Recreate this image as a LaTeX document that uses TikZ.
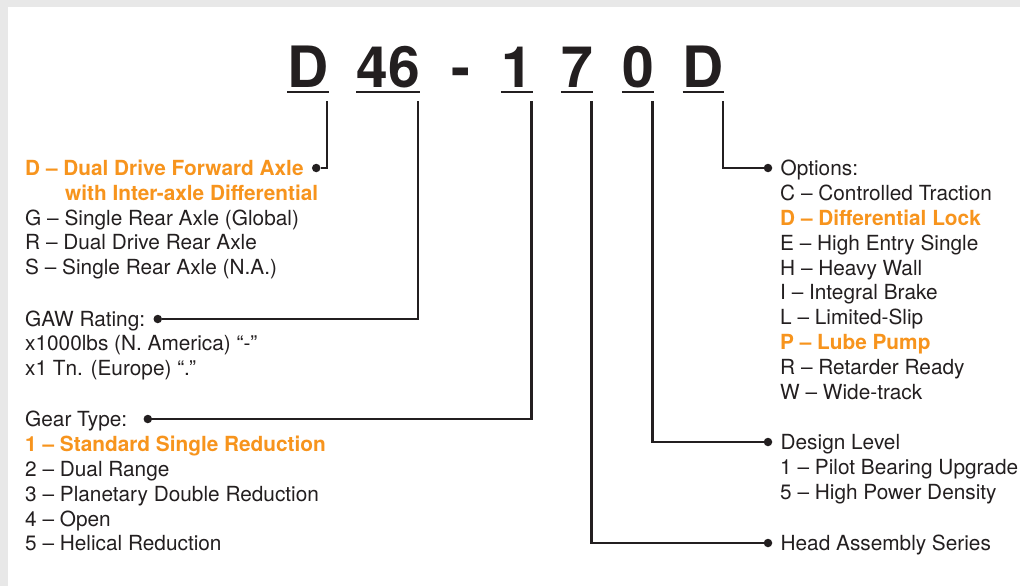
\documentclass[tikz,border=0pt]{standalone}
\usepackage{fontspec}
\setmainfont{TeX Gyre Heros}
\usetikzlibrary{positioning}
\definecolor{ink}{HTML}{231F20}
\definecolor{hot}{HTML}{F7941D}
\definecolor{rim}{HTML}{E8E8E8}

\begin{document}
\begin{tikzpicture}[x=1pt,y=-1pt,
    codechar/.style ={font=\fontsize{57}{57}\selectfont\bfseries, text=ink, inner sep=0pt,
                      anchor=base, text height=40pt, text depth=4pt},
    entry/.style ={font=\fontsize{20.8}{25}\selectfont, text=ink, inner sep=0pt,
                   anchor=west, text height=14.8pt, text depth=0pt},
    hotentry/.style ={entry, font=\fontsize{20.8}{25}\selectfont\bfseries, text=hot},
    tack/.style ={circle, fill=ink, inner sep=0pt, minimum size=8.5pt},
    leader/.style ={draw=ink, line width=2.2pt}]
   \useasboundingbox (0,0) rectangle (1020,586);
   \fill[rim] (0,0) rectangle (1020,586);
   \fill[white] (8,7) rectangle (1020,586);
   % model code
   \node[codechar, minimum width=40pt] (axle) at (308,88) {D};
   \node[codechar, minimum width=60pt] (gaw) at (388,88) {46};
   \node[codechar] (dash) at (460.5,88) {-};
   \node[codechar, minimum width=30pt] (gear) at (517,88) {1};
   \node[codechar, minimum width=30pt] (head) at (577,88) {7};
   \node[codechar, minimum width=30pt] (design) at (638,88) {0};
   \node[codechar, minimum width=39pt] (option) at (703.5,88) {D};
   \foreach \n in {axle,gaw,gear,head,design,option}
      \draw[ink, line width=2.5pt] (\n.south west) -- (\n.south east);
   % left side
   \node[hotentry] (axle-h) at (25,168) {D – Dual Drive Forward Axle};
   \node[tack, right=8pt of axle-h] (axle-dot) {};
   \node[hotentry] (axle-w) at (65,193) {with Inter-axle Differential};
   \foreach \t [count=\i] in {G – Single Rear Axle (Global), R – Dual Drive Rear Axle,
                              S – Single Rear Axle (N.A.)}
      \node[entry] (axle-\i) at (25,193+\i*24.7) {\t};
   \node[entry] (gaw-h) at (25,319) {GAW Rating:};
   \node[tack, right=8pt of gaw-h] (gaw-dot) {};
   \foreach \t [count=\i] in {x1000lbs (N. America) “-”, x1 Tn. (Europe) “.”}
      \node[entry] (gaw-\i) at (25,319+\i*24.5) {\t};
   \node[entry] (gear-h) at (25,419) {Gear Type:};
   \node[tack, right=16pt of gear-h] (gear-dot) {};
   \foreach \t/\s [count=\i] in {1 – Standard Single Reduction/hotentry, 2 – Dual Range/entry,
                                 3 – Planetary Double Reduction/entry, 4 – Open/entry,
                                 5 – Helical Reduction/entry}
      \node[\s] (gear-\i) at (25,419+\i*24.9) {\t};
   % right side
   \node[tack] (option-dot) at (768,168) {};
   \node[entry, right=8pt of option-dot] (option-h) {Options:};
   \foreach \t/\s [count=\i] in {C – Controlled Traction/entry, D – Differential Lock/hotentry,
                                 E – High Entry Single/entry, H – Heavy Wall/entry,
                                 I – Integral Brake/entry, L – Limited-Slip/entry,
                                 P – Lube Pump/hotentry, R – Retarder Ready/entry,
                                 W – Wide-track/entry}
      \node[\s] (option-\i) at (780,168+\i*24.9) {\t};
   \node[tack] (design-dot) at (768,442) {};
   \node[entry, right=8pt of design-dot] (design-h) {Design Level};
   \foreach \t [count=\i] in {1 – Pilot Bearing Upgrade, 5 – High Power Density}
      \node[entry] (design-\i) at (780,442+\i*24.9) {\t};
   \node[tack] (head-dot) at (768,543) {};
   \node[entry, right=8pt of head-dot] (head-h) {Head Assembly Series};
   % leaders
   \foreach \n in {axle,gaw,gear,head,design,option}
      \draw[leader] ([xshift=-1.5pt,yshift=-9pt]\n.south east) |- (\n-dot);
\end{tikzpicture}
\end{document}
